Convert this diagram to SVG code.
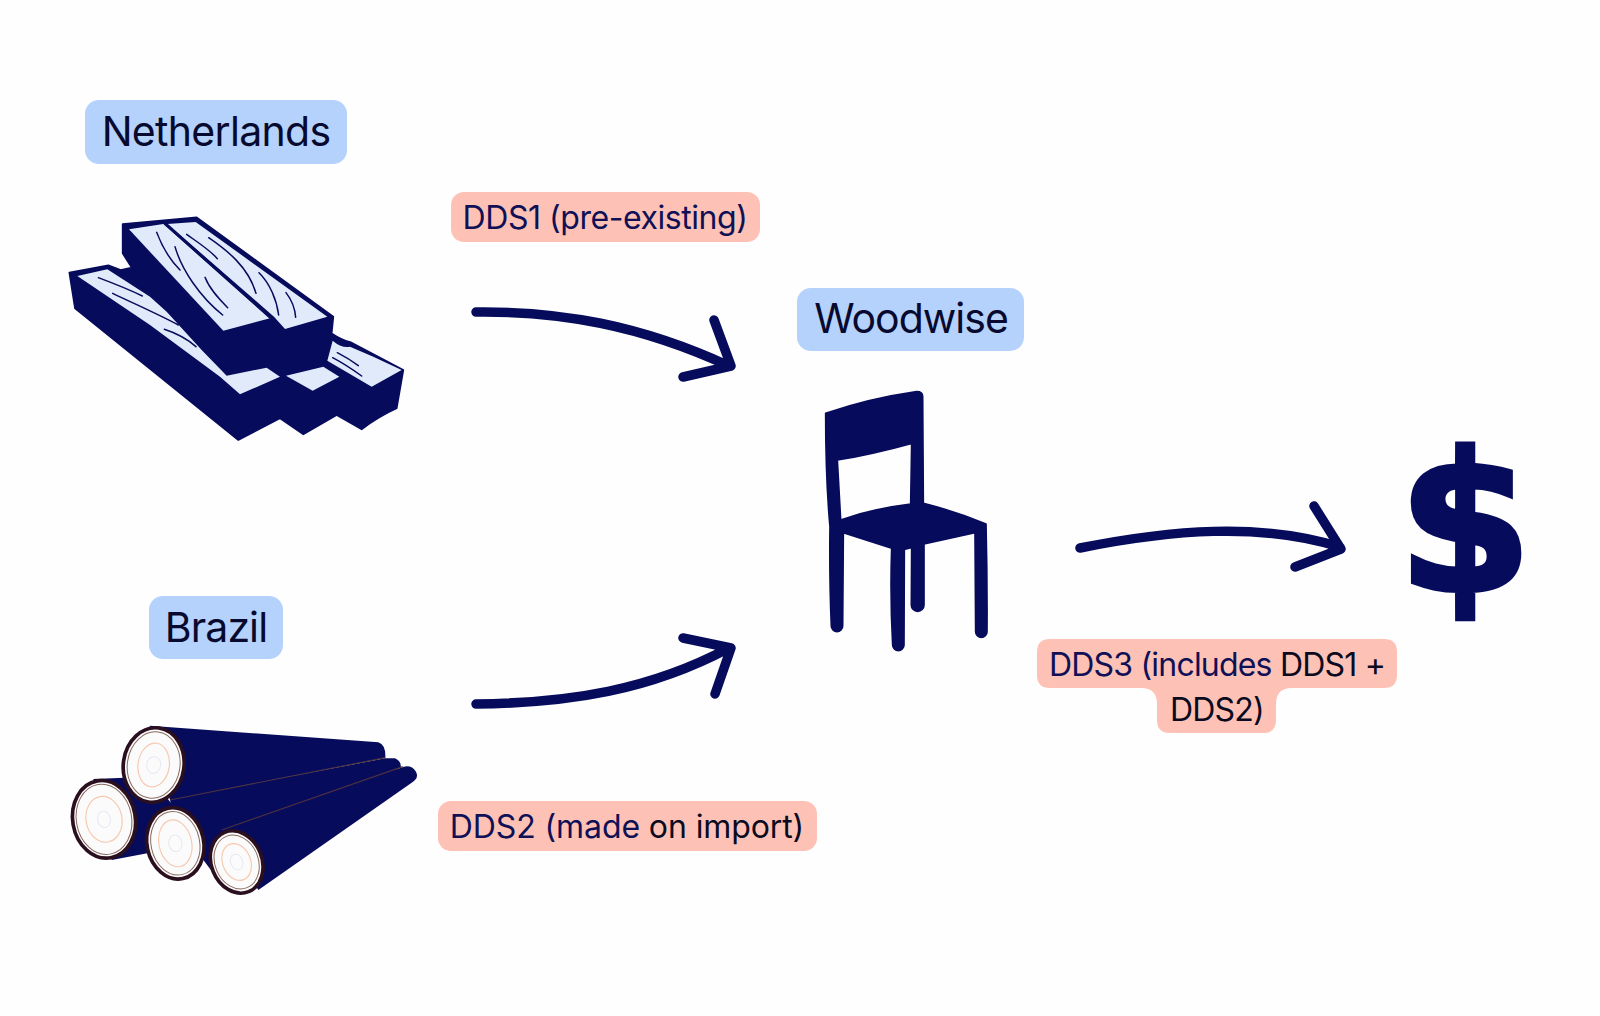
<svg xmlns="http://www.w3.org/2000/svg" width="1600" height="1016" viewBox="0 0 1600 1016">
<style>
.blue{fill:#b4d2fb}.salmon{fill:#fdc2b5}
.t{font-family:Inter,"Liberation Sans",sans-serif;text-anchor:middle}
.big{font-size:41px;fill:#08092f;letter-spacing:-.7px}
.small{font-size:32px;fill:#0f1056;letter-spacing:-.8px}
.k{fill:#0a0a20}
.navy{fill:#070b5c}
.soft{stroke:#070b5c;stroke-width:5;stroke-linejoin:round}
.arrow{fill:none;stroke:#070b5c;stroke-width:9.5;stroke-linecap:round;stroke-linejoin:round}
.grain{fill:none;stroke:#070b5c;stroke-width:4.5;stroke-linecap:round}
.light{fill:#e0eafb}
.bark{fill:#070b5c}
.sep{fill:none;stroke:#4a3040;stroke-width:3.5}
.end{fill:#fcfbfb;stroke:#2a0f1e;stroke-width:11}
.ring1{fill:none;stroke:#8a6a60;stroke-width:3}
.ring2{fill:none;stroke:#f6c9b0;stroke-width:3.5}
.ring3{fill:none;stroke:#e6e8f2;stroke-width:3}
</style>
<rect width="1600" height="1016" fill="#fefefe"/>
<g id="connectors">
<path class="arrow" d="M476 312C560 311 640 325 729 366M714 320L731 366L683 377"/>
<path class="arrow" d="M476 704C570 703 650 690 729 648M683 638L731 648L715 694"/>
<path class="arrow" d="M1080 548C1170 530 1260 522 1340 547M1314 506L1341 549L1295 567"/>
</g>
<g id="netherlands">
<rect class="blue" x="85" y="100" width="262" height="64" rx="14"/>
<text class="t big" x="216" y="146">Netherlands</text>
</g>
<g id="lumber" transform="translate(50 200) scale(.33333)">
<path class="navy soft" d="M218 72L440 52L850 350L845 400Q875 420 905 428L1060 510L1040 625Q985 650 935 688L860 645L760 703L690 655L565 720L75 325L58 218L175 196L212 210L245 203L218 160Z"/>
<path class="light" d="M237 88L340 72L660 355L520 392Z"/>
<path class="light" d="M352 72L437 66L832 350L705 387L672 350Z"/>
<path class="light" d="M82 228L172 208L300 290L350 335L455 450L530 527L650 503L690 530L570 583L510 530L300 375Z"/>
<path class="light" d="M708 527L820 500L868 530L788 572Z"/>
<path class="light" d="M848 422Q875 445 900 440L970 470L1055 510L965 560L832 482Z"/>
<path d="M345 70L672 362" fill="none" stroke="#070b5c" stroke-width="9"/>
<g class="grain">
<path d="M320 97C340 150 370 190 390 210"/>
<path d="M375 140C395 210 450 290 518 345"/>
<path d="M465 232C480 270 510 300 533 323"/>
<path d="M410 103C440 125 480 150 502 176"/>
<path d="M476 113C530 150 595 200 618 280"/>
<path d="M627 218C660 250 680 300 686 345"/>
<path d="M708 278C725 300 735 325 737 352"/>
<path d="M145 233C190 250 240 270 277 288"/>
<path d="M188 280C250 310 330 345 385 375"/>
<path d="M343 388C380 400 415 420 438 440"/>
<path d="M862 458C885 470 905 482 925 497"/>
<path d="M848 473C880 490 910 510 935 528"/>
</g>
</g>
<g id="brazil">
<rect class="blue" x="149" y="596" width="134" height="63" rx="14"/>
<text class="t big" x="216" y="642" style="letter-spacing:-.9px">Brazil</text>
</g>
<g id="logs" transform="translate(50 710) scale(.33333)">
<path class="bark" d="M130 207L300 200L380 300L300 428L185 450Z"/>
<path class="bark" d="M360 268L1005 145L1035 145Q1055 155 1052 172L490 490L370 330Z"/>
<path class="bark" d="M300 47L985 97Q1008 105 1006 143L360 270Z"/>
<path class="bark" d="M515 360L1062 170Q1085 165 1098 185Q1108 205 1085 218L625 540Z"/>
<path class="sep" d="M360 270L1006 143M515 360L1058 170"/>
<g transform="translate(311 165) rotate(8)">
<ellipse class="end" rx="91" ry="112"/><ellipse class="ring1" rx="79" ry="100"/><ellipse class="ring2" rx="47" ry="66"/><ellipse class="ring3" rx="21" ry="25"/>
</g>
<g transform="translate(162 328) rotate(-10)">
<ellipse class="end" rx="94" ry="117"/><ellipse class="ring1" rx="83" ry="106"/><ellipse class="ring2" rx="54" ry="69"/><ellipse class="ring3" rx="19" ry="25"/>
</g>
<g transform="translate(376 400) rotate(-12)">
<ellipse class="end" rx="85" ry="108"/><ellipse class="ring1" rx="73" ry="96"/><ellipse class="ring2" rx="49" ry="71"/><ellipse class="ring3" rx="20" ry="25"/>
</g>
<g transform="translate(560 456) rotate(-22)">
<ellipse class="end" rx="76" ry="96"/><ellipse class="ring1" rx="65" ry="83"/><ellipse class="ring2" rx="42" ry="57"/><ellipse class="ring3" rx="18" ry="24"/>
</g>
</g>
<g id="dds1">
<rect class="salmon" x="451" y="192" width="309" height="50" rx="13"/>
<text class="t small" x="605" y="229" style="letter-spacing:-.45px">DDS1 (pre-existing)</text>
</g>
<g id="dds2">
<rect class="salmon" x="438" y="801" width="379" height="50" rx="13"/>
<text class="t small" x="627" y="838" style="letter-spacing:-.1px">DDS2 (made <tspan class="k">on import)</tspan></text>
</g>
<g id="woodwise">
<rect class="blue" x="797" y="288" width="227" height="63" rx="14"/>
<text class="t big" x="911" y="333" style="letter-spacing:-1px">Woodwise</text>
</g>
<g id="chair" transform="translate(800 380) scale(.33333)">
<path class="navy soft" fill-rule="evenodd" d="M77 100Q210 55 350 35Q368 35 368 50L370 370Q470 395 558 432Q562 600 561 755A17 17 0 0 1 527 755L525 458L372 492L372 675A19 19 0 0 1 334 675L335 502L313 508L312 795A17 17 0 0 1 278 795Q270 650 275 505L130 458L128 738A17 17 0 0 1 94 738Q88 600 90 440Q77 300 77 100ZM112 240L122 420Q220 385 332 372L335 190Q220 222 112 240Z"/>
</g>
<g id="dollar">
<text x="1465" y="591" font-family="DejaVu Sans,sans-serif" font-weight="700" font-size="192" text-anchor="middle" class="navy" stroke="#070b5c" stroke-width="5">$</text>
</g>
<g id="dds3">
<path class="salmon" d="M1050 639H1384Q1397 639 1397 652V675Q1397 688 1384 688H1292Q1276 688 1276 704V720Q1276 733 1263 733H1170Q1157 733 1157 720V704Q1157 688 1141 688H1050Q1037 688 1037 675V652Q1037 639 1050 639Z"/>
<text class="t small" x="1217" y="676">DDS3 (includes <tspan class="k">DDS1 +</tspan></text>
<text class="t small k" x="1217" y="721">DDS2)</text>
</g>
</svg>
